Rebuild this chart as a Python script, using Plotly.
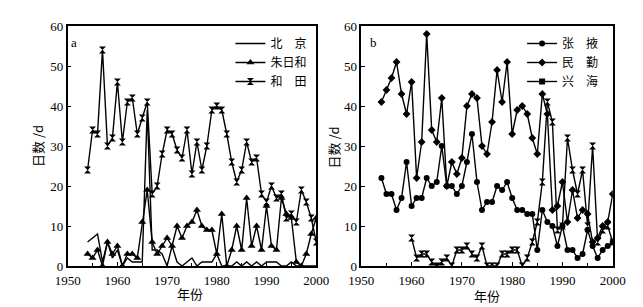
import plotly.graph_objects as go

# ---------------- data ----------------
years = list(range(1954, 2001))
years_xh = list(range(1960, 2001))

beijing = [6, 7, 8, 1, 6, 2, 4, 0, 2, 1,
           1, 1, 39, 4, 4, 3, 0, 5, 1, 0,
           1, 2, 0, 1, 1, 1, 3, 0, 0, 0,
           1, 0, 1, 0, 1, 0, 1, 1, 1, 0,
           0, 1, 0, 0, 0, 0, 0]
zhurihe = [3, 2, 4, 0, 6, 3, 5, 0, 3, 3,
           2, 11, 19, 6, 3, 5, 7, 5, 10, 7,
           10, 11, 14, 10, 9, 9, 3, 13, 0, 4,
           10, 4, 17, 5, 10, 4, 15, 5, 4, 17,
           13, 12, 1, 0, 3, 8, 12]
hetian = [24, 34, 33, 54, 30, 32, 46, 31, 41, 42,
          33, 37, 41, 18, 20, 28, 34, 33, 29, 27,
          34, 23, 31, 24, 30, 39, 40, 39, 33, 26,
          21, 24, 31, 26, 27, 18, 16, 20, 17, 18,
          12, 13, 11, 19, 16, 12, 6]

zhangye = [22, 18, 18, 14, 17, 26, 15, 17, 17, 22,
           20, 21, 30, 20, 20, 18, 20, 26, 33, 21,
           14, 16, 16, 20, 19, 21, 17, 14, 14, 13,
           13, 4, 14, 11, 10, 5, 10, 4, 4, 2,
           3, 9, 5, 2, 4, 5, 6]
minqin = [41, 44, 47, 51, 43, 38, 46, 22, 31, 58,
          34, 31, 42, 20, 26, 23, 27, 40, 43, 42,
          30, 28, 36, 49, 41, 51, 33, 39, 40, 38,
          32, 28, 43, 38, 14, 15, 21, 11, 19, 12,
          14, 13, 6, 7, 10, 11, 18]
xinghai = [7, 2, 3, 3, 1, 0, 1, 2, 0, 4,
           4, 5, 3, 2, 5, 0, 0, 0, 3, 3,
           4, 4, 0, 2, 6, 11, 21, 41, 36, 9,
           10, 32, 24, 18, 24, 10, 30, 6, 9, 10,
           6]

names_a = ["北\u3000京", "朱日和", "和\u3000田"]
names_b = ["张\u3000掖", "民\u3000勤", "兴\u3000海"]
x_ticks = [1950, 1960, 1970, 1980, 1990, 2000]
y_ticks = [0, 10, 20, 30, 40, 50, 60]

# ---------------- figure ----------------
W, H = 643, 307
T, B = 26, 41
ph = H - T - B

fig = go.Figure()
lw = 1.4
blk = "black"

fig.add_trace(go.Scatter(x=years, y=beijing, mode="lines", name=names_a[0],
                         line=dict(color=blk, width=lw), xaxis="x", yaxis="y", legend="legend"))
fig.add_trace(go.Scatter(x=years, y=zhurihe, mode="lines+markers", name=names_a[1],
                         line=dict(color=blk, width=lw),
                         marker=dict(symbol="triangle-up", size=7, color=blk),
                         xaxis="x", yaxis="y", legend="legend"))
fig.add_trace(go.Scatter(x=years, y=hetian, mode="lines+markers", name=names_a[2],
                         line=dict(color=blk, width=lw),
                         marker=dict(symbol="hourglass", size=7, color=blk),
                         xaxis="x", yaxis="y", legend="legend"))

fig.add_trace(go.Scatter(x=years, y=zhangye, mode="lines+markers", name=names_b[0],
                         line=dict(color=blk, width=lw),
                         marker=dict(symbol="circle", size=6, color=blk),
                         xaxis="x2", yaxis="y2", legend="legend2"))
fig.add_trace(go.Scatter(x=years, y=minqin, mode="lines+markers", name=names_b[1],
                         line=dict(color=blk, width=lw),
                         marker=dict(symbol="diamond", size=6, color=blk),
                         xaxis="x2", yaxis="y2", legend="legend2"))
fig.add_trace(go.Scatter(x=years_xh, y=xinghai, mode="lines+markers", name=names_b[2],
                         line=dict(color=blk, width=lw),
                         marker=dict(symbol="hourglass", size=7, color=blk),
                         xaxis="x2", yaxis="y2", legend="legend2", showlegend=False))
# legend entry for 兴海 (square symbol as in the reference key)
fig.add_trace(go.Scatter(x=[None], y=[None], mode="lines+markers", name=names_b[2],
                         line=dict(color=blk, width=lw),
                         marker=dict(symbol="square", size=6, color=blk),
                         xaxis="x2", yaxis="y2", legend="legend2"))

tickfont = dict(family="Liberation Serif", size=13, color="black")
axis_common = dict(showline=True, linecolor="black", linewidth=1.5, mirror=True,
                   ticks="inside", ticklen=4, tickcolor="black", tickwidth=1,
                   showgrid=False, zeroline=False, tickfont=tickfont)

leg_font = dict(family="Noto Sans CJK SC", size=12, color="black")
fig.update_layout(
    width=W, height=H,
    margin=dict(l=0, r=0, t=T, b=B),
    paper_bgcolor="white", plot_bgcolor="white",
    xaxis=dict(domain=[57 / W, 316 / W], range=[1950, 2000], tickvals=x_ticks,
               minor=dict(dtick=5, ticks="inside", ticklen=3, tickcolor="black"),
               ticklabelstandoff=2, anchor="y", **axis_common),
    yaxis=dict(domain=[0, 1], range=[0, 60], tickvals=y_ticks, anchor="x", **axis_common),
    xaxis2=dict(domain=[363 / W, 625 / W], range=[1950, 2000], tickvals=x_ticks,
                minor=dict(dtick=5, ticks="inside", ticklen=3, tickcolor="black"),
                ticklabelstandoff=2, anchor="y2", **axis_common),
    yaxis2=dict(domain=[0, 1], range=[0, 60], tickvals=y_ticks, anchor="x2", **axis_common),
    legend=dict(x=312 / W, xanchor="right", y=(H - B - 29) / ph, yanchor="top",
                bgcolor="rgba(0,0,0,0)", font=leg_font, tracegroupgap=0, itemwidth=30),
    legend2=dict(x=616 / W, xanchor="right", y=(H - B - 29) / ph, yanchor="top",
                 bgcolor="rgba(0,0,0,0)", font=leg_font, tracegroupgap=0, itemwidth=30),
    showlegend=True,
)

cjk = dict(family="Noto Sans CJK SC", size=13, color="black")
def py(px):
    return (H - B - px) / ph

annots = [
    dict(text="a", x=64 / W, y=py(42), font=dict(family="Liberation Serif", size=13, color="black")),
    dict(text="b", x=376 / W, y=py(42), font=dict(family="Liberation Serif", size=13, color="black")),
    dict(text="日数 /d", x=25 / W, y=py(146), textangle=-90, font=cjk),
    dict(text="日数 /d", x=333 / W, y=py(148), textangle=-90, font=cjk),
    dict(text="年份", x=184 / W, y=py(293), font=cjk),
    dict(text="年份", x=494 / W, y=py(295), font=cjk),
]
for a in annots:
    fig.add_annotation(xref="paper", yref="paper", showarrow=False,
                       xanchor="center", yanchor="middle", **a)

fig.write_html("out.html", config={"displayModeBar": False},
               post_script="document.body.style.margin='0';document.body.style.padding='0';")
